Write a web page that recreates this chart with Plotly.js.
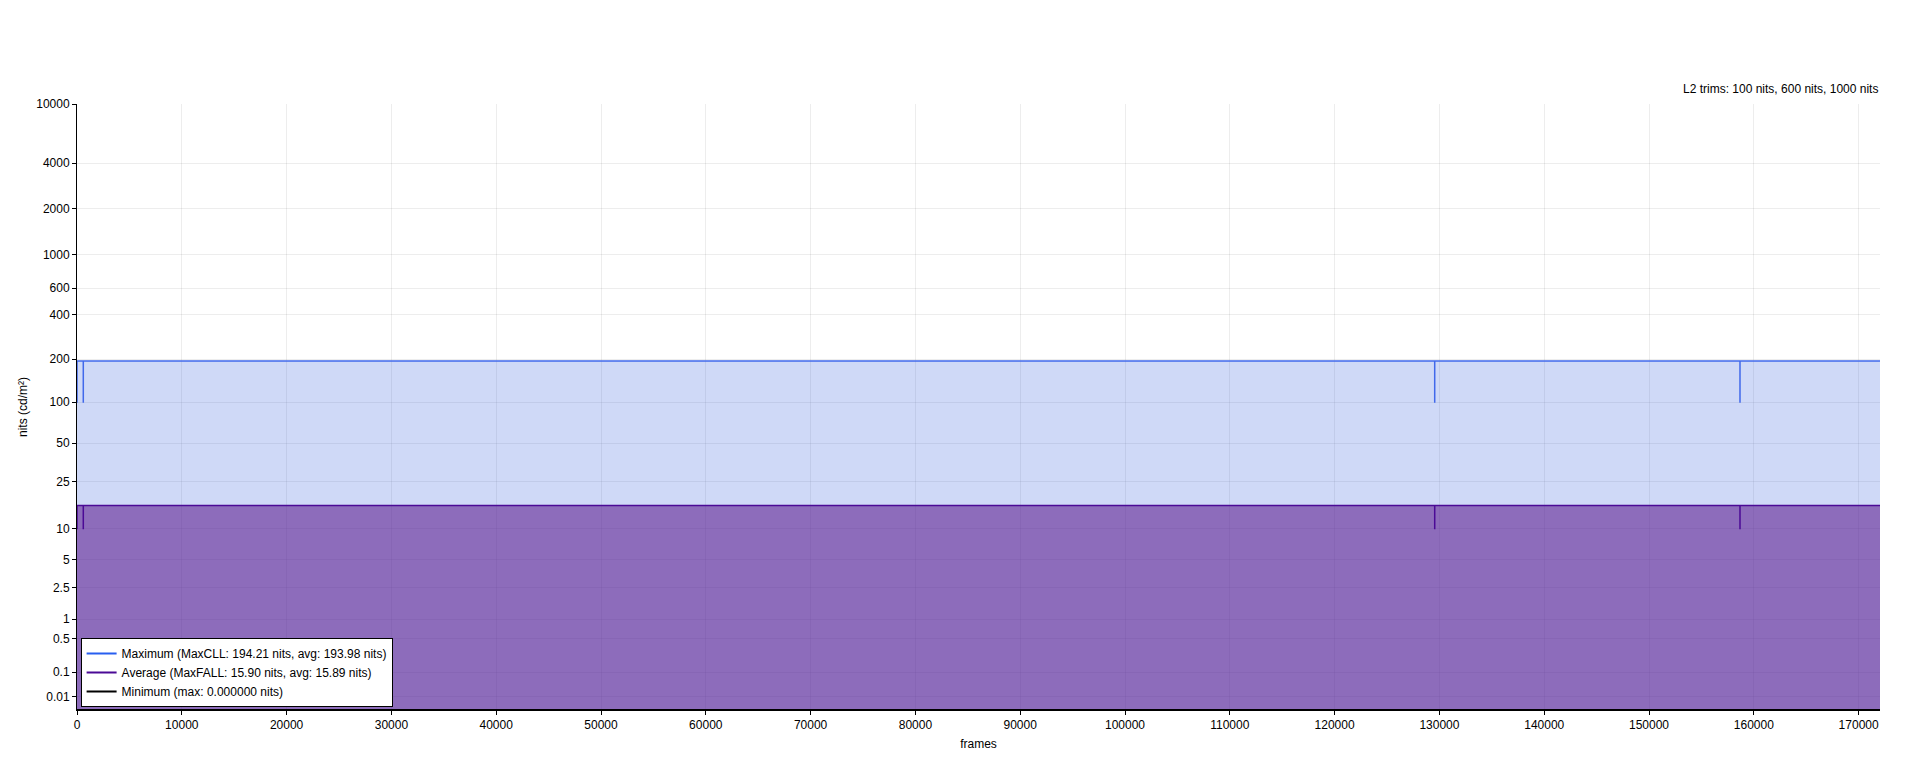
<html>
<head>
<script src="https://cdn.plot.ly/plotly-3.0.1.min.js"></script>
<style>
body { margin: 0; background: #ffffff; }
#plot { width: 1920px; height: 768px; }
</style>
</head>
<body>
<div id="plot"></div>
<script>
// Per-scene brightness, frame numbers where the value changes (drawn as steps)
var sceneFrames = [0, 1, 600, 601, 129550, 129551, 158680, 158681, 172040];
var maxNits = [100, 194.21, 100, 193.98, 100, 193.98, 100, 193.98, 193.98];
var avgNits = [10, 15.90, 10, 15.89, 10, 15.89, 10, 15.89, 15.89];
var minNits = [0, 0, 0, 0, 0, 0, 0, 0, 0];

var tickNits = [0.01, 0.1, 0.5, 1, 2.5, 5, 10, 25, 50, 100, 200, 400, 600, 1000, 2000, 4000, 10000];
var tickLabels = ["0.01", "0.1", "0.5", "1", "2.5", "5", "10", "25", "50", "100", "200", "400", "600", "1000", "2000", "4000", "10000"];

var legendNames = [
  "Maximum (MaxCLL: 194.21 nits, avg: 193.98 nits)",
  "Average (MaxFALL: 15.90 nits, avg: 15.89 nits)",
  "Minimum (max: 0.000000 nits)"
];
var trimText = "L2 trims: 100 nits, 600 nits, 1000 nits";

var maxColor = "rgb(40,95,240)";
var avgColor = "rgb(75,10,150)";
var minColor = "#000000";

//SMPTE ST 2084 (PQ) encoding, used as the y scale
function pq(nits) {
  var m1 = 2610 / 16384, m2 = 2523 / 4096 * 128;
  var c1 = 3424 / 4096, c2 = 2413 / 4096 * 32, c3 = 2392 / 4096 * 32;
  var y = Math.pow(nits / 10000, m1);
  return Math.pow((c1 + c2 * y) / (1 + c3 * y), m2);
}

var font = {family: "Liberation Sans, Arial, sans-serif", size: 12, color: "#000000"};

var maxTrace = {
  x: sceneFrames, y: maxNits.map(pq), showlegend: false,
  type: "scatter", mode: "lines", line: {color: "rgb(65,105,235)", width: 1.5, shape: "hv"},
  fill: "tozeroy", fillcolor: "rgba(65,105,225,0.25)"
};
var avgTrace = {
  x: sceneFrames, y: avgNits.map(pq), showlegend: false,
  type: "scatter", mode: "lines", line: {color: avgColor, width: 1.5, shape: "hv"},
  fill: "tozeroy", fillcolor: "rgba(97,35,146,0.6)"
};
var minTrace = {
  x: sceneFrames, y: minNits.map(pq), showlegend: false,
  type: "scatter", mode: "lines", line: {color: minColor, width: 2, shape: "hv"}
};

//legend entries drawn as plain lines (fills would show as boxes)
function legendEntry(name, color) {
  return {x: [null], y: [null], name: name, type: "scatter", mode: "lines",
          line: {color: color, width: 2}};
}

var data = [maxTrace, avgTrace, minTrace,
  legendEntry(legendNames[0], maxColor),
  legendEntry(legendNames[1], avgColor),
  legendEntry(legendNames[2], minColor)];

var layout = {
  width: 1920, height: 768,
  margin: {l: 77, r: 40, t: 104, b: 58},
  paper_bgcolor: "#ffffff", plot_bgcolor: "#ffffff",
  font: font,
  showlegend: true,
  legend: {
    x: 0.002, y: 0.005, xanchor: "left", yanchor: "bottom",
    bgcolor: "#ffffff", bordercolor: "#000000", borderwidth: 1,
    font: font, tracegroupgap: 0
  },
  xaxis: {
    range: [0, 172040], dtick: 10000, tick0: 0, tickformat: "d",
    showgrid: true, gridcolor: "rgba(0,0,0,0.07)",
    showline: true, linecolor: "#000000", linewidth: 1,
    ticks: "outside", ticklen: 4, tickcolor: "#000000",
    zeroline: false, tickfont: font,
    title: {text: "frames", font: font, standoff: 8}
  },
  yaxis: {
    range: [0, 1], tickmode: "array",
    tickvals: tickNits.map(pq), ticktext: tickLabels,
    showgrid: true, gridcolor: "rgba(0,0,0,0.07)",
    showline: true, linecolor: "#000000", linewidth: 1,
    ticks: "outside", ticklen: 4, tickcolor: "#000000",
    zeroline: false, tickfont: font,
    title: {text: "nits (cd/m²)", font: font, standoff: 6}
  },
  annotations: [{
    text: trimText, xref: "paper", yref: "paper",
    x: 1, y: 1, xanchor: "right", yanchor: "bottom", yshift: 6,
    showarrow: false, font: font
  }]
};

Plotly.newPlot("plot", data, layout, {displayModeBar: false, staticPlot: true});
</script>
</body>
</html>
